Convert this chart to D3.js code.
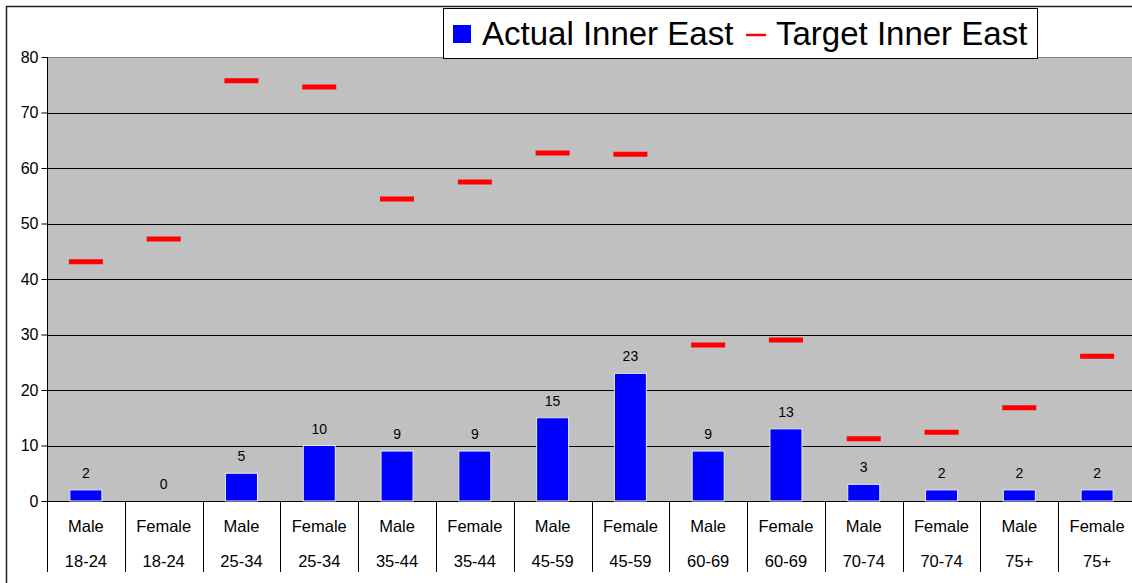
<!DOCTYPE html>
<html><head><meta charset="utf-8">
<script src="https://cdn.jsdelivr.net/npm/d3@7"></script>
<style>html,body{margin:0;padding:0;background:#fff;overflow:hidden}svg{display:block;font-family:"Liberation Sans",Arial,sans-serif}</style>
</head><body>
<svg id="c" width="1132" height="583"></svg>
<script>
const genders = ["Male","Female","Male","Female","Male","Female","Male","Female","Male","Female","Male","Female","Male","Female"];
const ageGroups = ["18-24","18-24","25-34","25-34","35-44","35-44","45-59","45-59","60-69","60-69","70-74","70-74","75+","75+"];
const actual = [2,0,5,10,9,9,15,23,9,13,3,2,2,2];
const target = [43.1,47.2,75.7,74.6,54.4,57.5,62.7,62.5,28.1,29.0,11.2,12.4,16.8,26.1];
const yTicks = [0,10,20,30,40,50,60,70,80];
const legendLabels = ["Actual Inner East","Target Inner East"];

const svg = d3.select("#c");
const L = 47, R = 1136, T = 57, B = 501;
const idx = d3.range(actual.length);
const x = d3.scaleBand().domain(idx).range([L, R]).padding(0);
const y = d3.scaleLinear().domain([0, 80]).range([B, T]);
const bw = x.bandwidth();

// outer chart border
svg.append("path").attr("d", `M6.5,583 L6.5,6.5 L1132,6.5`).attr("fill","none").attr("stroke","#222").attr("stroke-width",1.5);

// plot area
svg.append("rect").attr("x", L).attr("y", T).attr("width", R - L).attr("height", B - T).attr("fill", "#c0c0c0");
// gridlines
svg.append("g").selectAll("line").data(yTicks.filter(d => d > 0 && d < 80)).join("line")
  .attr("x1", L).attr("x2", R).attr("y1", d => Math.round(y(d)) + 0.5).attr("y2", d => Math.round(y(d)) + 0.5)
  .attr("stroke", "#000").attr("stroke-width", 1);
svg.append("line").attr("x1", L).attr("x2", R).attr("y1", T + 0.5).attr("y2", T + 0.5).attr("stroke", "#808080");

// y axis
const yAxis = d3.axisLeft(y).tickValues(yTicks).tickSize(6).tickPadding(3).tickFormat(d3.format("d"));
const gy = svg.append("g").attr("transform", `translate(${L + 0.5},0)`).call(yAxis);
gy.select(".domain").remove();
gy.selectAll(".tick line").attr("stroke", "#000");
gy.selectAll(".tick text").attr("font-size", 16).attr("fill", "#000").attr("font-family", '"Liberation Sans",Arial,sans-serif');
svg.append("line").attr("x1", L + 0.5).attr("x2", L + 0.5).attr("y1", T).attr("y2", 572).attr("stroke", "#000");

// x axis line and dividers
svg.append("line").attr("x1", L).attr("x2", R).attr("y1", B + 0.5).attr("y2", B + 0.5).attr("stroke", "#000");
svg.append("g").selectAll("line").data(idx.slice(1)).join("line")
  .attr("x1", d => Math.round(x(d)) + 0.5).attr("x2", d => Math.round(x(d)) + 0.5)
  .attr("y1", B).attr("y2", 572).attr("stroke", "#000");

// category labels
const cl = svg.append("g").attr("font-size", 16.5).attr("fill", "#000").attr("text-anchor", "middle");
cl.selectAll("text.g").data(idx).join("text").attr("class","g")
  .attr("x", d => x(d) + bw / 2).attr("y", 532).text(d => genders[d]);
cl.selectAll("text.a").data(idx).join("text").attr("class","a")
  .attr("x", d => x(d) + bw / 2).attr("y", 567).text(d => ageGroups[d]);

// bars
const barW = 32;
svg.append("g").selectAll("rect").data(idx.filter(i => actual[i] > 0)).join("rect")
  .attr("x", d => x(d) + bw / 2 - barW / 2).attr("width", barW)
  .attr("y", d => y(actual[d])).attr("height", d => y(0) - y(actual[d]))
  .attr("fill", "#0000ff").attr("stroke", "#e8e8e8").attr("stroke-width", 1);

// value labels
svg.append("g").attr("font-size", 14).attr("fill", "#000").attr("text-anchor", "middle")
  .selectAll("text").data(idx).join("text")
  .attr("x", d => x(d) + bw / 2).attr("y", d => y(actual[d]) - 12).text(d => actual[d]);

// target markers
const tw = 34;
svg.append("g").selectAll("line").data(idx).join("line")
  .attr("x1", d => x(d) + bw / 2 - tw / 2).attr("x2", d => x(d) + bw / 2 + tw / 2)
  .attr("y1", d => y(target[d])).attr("y2", d => y(target[d]))
  .attr("stroke", "#ff0000").attr("stroke-width", 5);

// legend
const lg = svg.append("g");
lg.append("rect").attr("x", 443.5).attr("y", 8.5).attr("width", 594).attr("height", 50).attr("fill", "#fff").attr("stroke", "#000").attr("stroke-width", 1);
lg.append("rect").attr("x", 453).attr("y", 25).attr("width", 18).attr("height", 18).attr("fill", "#0000ff");
lg.append("text").attr("x", 482).attr("y", 45).attr("font-size", 33).attr("fill", "#000").text(legendLabels[0]);
lg.append("line").attr("x1", 746).attr("x2", 766).attr("y1", 35).attr("y2", 35).attr("stroke", "#ff0000").attr("stroke-width", 2.5);
lg.append("text").attr("x", 776).attr("y", 45).attr("font-size", 33).attr("fill", "#000").text(legendLabels[1]);
</script>
</body></html>
